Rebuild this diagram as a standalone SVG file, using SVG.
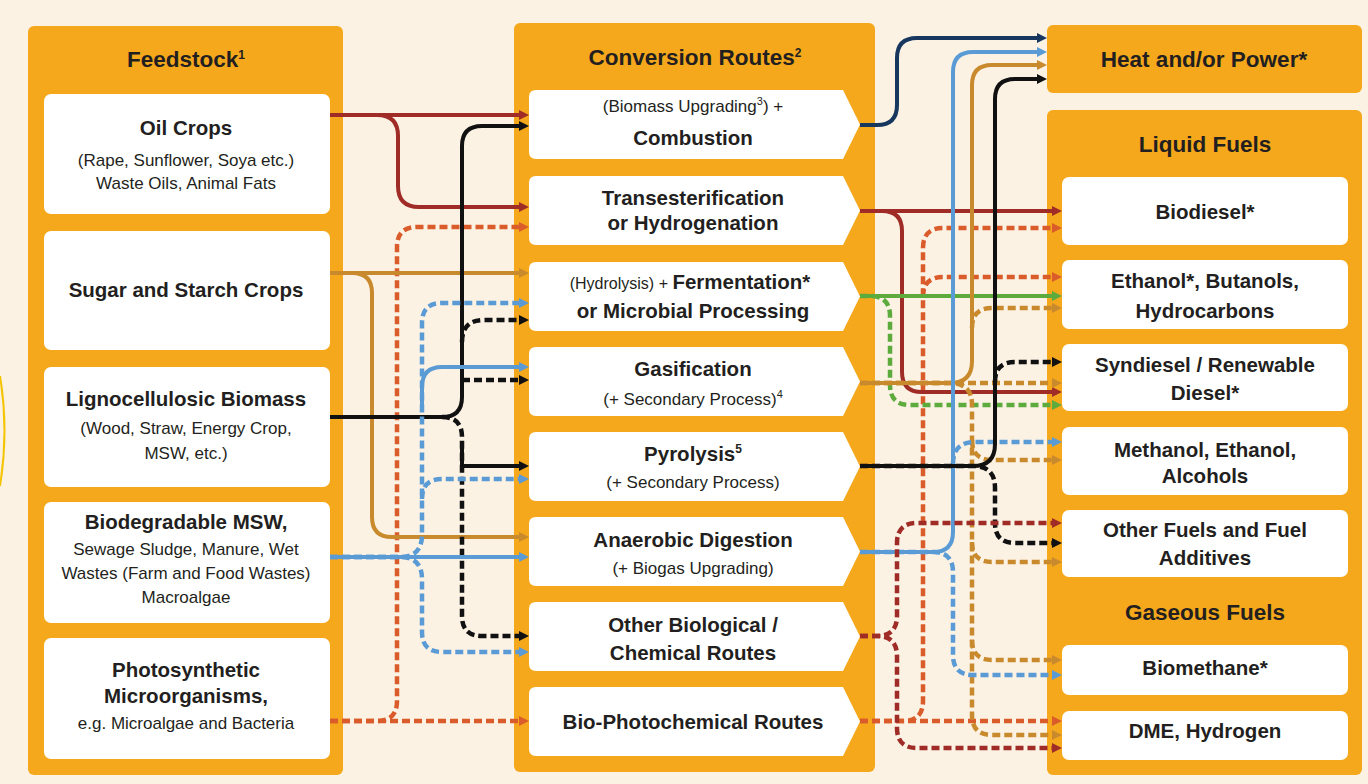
<svg xmlns="http://www.w3.org/2000/svg" width="1368" height="784" viewBox="0 0 1368 784">
<defs>
<style>
.panel{fill:#F5A81C}
.box{fill:#FFFFFF}
text{font-family:"Liberation Sans",Arial,sans-serif;fill:#231F20;text-anchor:middle}
.h{font-weight:bold;font-size:22.5px}
.t{font-weight:bold;font-size:20.5px}
.s{font-size:17px}
.c{fill:none;stroke-width:4}
.d{stroke-dasharray:8 4;stroke-width:4.5}
.red{stroke:#A02C27}
.org{stroke:#DA5C2B}
.tan{stroke:#C98A2E}
.blk{stroke:#111111}
.blu{stroke:#5B9BD5}
.nav{stroke:#17375E}
.grn{stroke:#5CAB3C}
</style>
<marker id="aRed" markerUnits="userSpaceOnUse" markerWidth="10" markerHeight="10" refX="4" refY="5" orient="auto"><path d="M0,0 L10,5 L0,10 z" fill="#A02C27"/></marker>
<marker id="aOrg" markerUnits="userSpaceOnUse" markerWidth="10" markerHeight="10" refX="4" refY="5" orient="auto"><path d="M0,0 L10,5 L0,10 z" fill="#DA5C2B"/></marker>
<marker id="aTan" markerUnits="userSpaceOnUse" markerWidth="10" markerHeight="10" refX="4" refY="5" orient="auto"><path d="M0,0 L10,5 L0,10 z" fill="#C98A2E"/></marker>
<marker id="aBlk" markerUnits="userSpaceOnUse" markerWidth="10" markerHeight="10" refX="4" refY="5" orient="auto"><path d="M0,0 L10,5 L0,10 z" fill="#111111"/></marker>
<marker id="aBlu" markerUnits="userSpaceOnUse" markerWidth="10" markerHeight="10" refX="4" refY="5" orient="auto"><path d="M0,0 L10,5 L0,10 z" fill="#5B9BD5"/></marker>
<marker id="aNav" markerUnits="userSpaceOnUse" markerWidth="10" markerHeight="10" refX="4" refY="5" orient="auto"><path d="M0,0 L10,5 L0,10 z" fill="#17375E"/></marker>
<marker id="aGrn" markerUnits="userSpaceOnUse" markerWidth="10" markerHeight="10" refX="4" refY="5" orient="auto"><path d="M0,0 L10,5 L0,10 z" fill="#5CAB3C"/></marker>
</defs>

<rect x="0" y="0" width="1368" height="784" fill="#FBF2E4"/>
<path d="M0,376 Q9,430 0,486" fill="none" stroke="#F5C400" stroke-width="2"/>

<!-- Feedstock panel -->
<g id="feedstock">
<rect class="panel" x="28" y="26" width="315" height="749" rx="6"/>
<text class="h" x="186" y="67">Feedstock<tspan font-size="12" dy="-8">1</tspan></text>
</g>
<g id="oil-crops">
<rect class="box" x="44" y="94" width="286" height="120" rx="7"/>
<text class="t" x="186" y="135">Oil Crops</text>
<text class="s" x="186" y="166">(Rape, Sunflower, Soya etc.)</text>
<text class="s" x="186" y="189">Waste Oils, Animal Fats</text>
</g>
<g id="sugar-starch">
<rect class="box" x="44" y="231" width="286" height="119" rx="7"/>
<text class="t" x="186" y="297">Sugar and Starch Crops</text>
</g>
<g id="lignocellulosic">
<rect class="box" x="44" y="367" width="286" height="120" rx="7"/>
<text class="t" x="186" y="406">Lignocellulosic Biomass</text>
<text class="s" x="186" y="434">(Wood, Straw, Energy Crop,</text>
<text class="s" x="186" y="459">MSW, etc.)</text>
</g>
<g id="biodegradable-msw">
<rect class="box" x="44" y="502" width="286" height="121" rx="7"/>
<text class="t" x="186" y="529">Biodegradable MSW,</text>
<text class="s" x="186" y="555">Sewage Sludge, Manure, Wet</text>
<text class="s" x="186" y="579">Wastes (Farm and Food Wastes)</text>
<text class="s" x="186" y="603">Macroalgae</text>
</g>
<g id="photosynthetic">
<rect class="box" x="44" y="638" width="286" height="121" rx="7"/>
<text class="t" x="186" y="677">Photosynthetic</text>
<text class="t" x="186" y="703">Microorganisms,</text>
<text class="s" x="186" y="729">e.g. Microalgae and Bacteria</text>
</g>

<!-- Conversion panel -->
<g id="conversion">
<rect class="panel" x="514" y="23" width="361" height="749" rx="6"/>
<text class="h" x="695" y="65">Conversion Routes<tspan font-size="12" dy="-8">2</tspan></text>
</g>
<g id="combustion">
<path class="box" d="M536,90 H843 L860,124.5 L843,159 H536 Q529,159 529,152 V97 Q529,90 536,90 Z"/>
<text class="s" x="693" y="112">(Biomass Upgrading<tspan font-size="11" dy="-7">3</tspan><tspan dy="7">) +</tspan></text>
<text class="t" x="693" y="145">Combustion</text>
</g>
<g id="transesterification">
<path class="box" d="M536,176 H843 L860,210.5 L843,245 H536 Q529,245 529,238 V183 Q529,176 536,176 Z"/>
<text class="t" x="693" y="205">Transesterification</text>
<text class="t" x="693" y="230">or Hydrogenation</text>
</g>
<g id="fermentation">
<path class="box" d="M536,262 H843 L860,296.5 L843,331 H536 Q529,331 529,324 V269 Q529,262 536,262 Z"/>
<text x="690" y="289"><tspan font-size="16">(Hydrolysis) + </tspan><tspan font-size="20.5" font-weight="bold">Fermentation*</tspan></text>
<text class="t" x="693" y="318">or Microbial Processing</text>
</g>
<g id="gasification">
<path class="box" d="M536,347 H843 L860,381.5 L843,416 H536 Q529,416 529,409 V354 Q529,347 536,347 Z"/>
<text class="t" x="693" y="376">Gasification</text>
<text class="s" x="693" y="405">(+ Secondary Process)<tspan font-size="11" dy="-7">4</tspan></text>
</g>
<g id="pyrolysis">
<path class="box" d="M536,432 H843 L860,466.5 L843,501 H536 Q529,501 529,494 V439 Q529,432 536,432 Z"/>
<text class="t" x="693" y="461">Pyrolysis<tspan font-size="12" dy="-8">5</tspan></text>
<text class="s" x="693" y="488">(+ Secondary Process)</text>
</g>
<g id="anaerobic-digestion">
<path class="box" d="M536,517 H843 L860,551.5 L843,586 H536 Q529,586 529,579 V524 Q529,517 536,517 Z"/>
<text class="t" x="693" y="547">Anaerobic Digestion</text>
<text class="s" x="693" y="574">(+ Biogas Upgrading)</text>
</g>
<g id="other-biological">
<path class="box" d="M536,602 H843 L860,636.5 L843,671 H536 Q529,671 529,664 V609 Q529,602 536,602 Z"/>
<text class="t" x="693" y="632">Other Biological /</text>
<text class="t" x="693" y="660">Chemical Routes</text>
</g>
<g id="bio-photochemical">
<path class="box" d="M536,687 H843 L860,721.5 L843,756 H536 Q529,756 529,749 V694 Q529,687 536,687 Z"/>
<text class="t" x="693" y="729">Bio-Photochemical Routes</text>
</g>

<!-- Outputs -->
<g id="heat-power">
<rect class="panel" x="1047" y="25" width="315" height="68" rx="6"/>
<text class="h" x="1204" y="67">Heat and/or Power*</text>
</g>
<g id="liquid-fuels">
<rect class="panel" x="1047" y="110" width="315" height="665" rx="6"/>
<text class="h" x="1205" y="152">Liquid Fuels</text>
<text class="h" x="1205" y="620">Gaseous Fuels</text>
</g>
<g id="biodiesel">
<rect class="box" x="1062" y="177" width="286" height="68" rx="7"/>
<text class="t" x="1205" y="219">Biodiesel*</text>
</g>
<g id="ethanol">
<rect class="box" x="1062" y="260" width="286" height="69" rx="7"/>
<text class="t" x="1205" y="288">Ethanol*, Butanols,</text>
<text class="t" x="1205" y="318">Hydrocarbons</text>
</g>
<g id="syndiesel">
<rect class="box" x="1062" y="344" width="286" height="67" rx="7"/>
<text class="t" x="1205" y="372">Syndiesel / Renewable</text>
<text class="t" x="1205" y="400">Diesel*</text>
</g>
<g id="methanol">
<rect class="box" x="1062" y="427" width="286" height="68" rx="7"/>
<text class="t" x="1205" y="457">Methanol, Ethanol,</text>
<text class="t" x="1205" y="483">Alcohols</text>
</g>
<g id="other-fuels">
<rect class="box" x="1062" y="510" width="286" height="67" rx="7"/>
<text class="t" x="1205" y="537">Other Fuels and Fuel</text>
<text class="t" x="1205" y="565">Additives</text>
</g>
<g id="biomethane">
<rect class="box" x="1062" y="645" width="286" height="50" rx="7"/>
<text class="t" x="1205" y="675">Biomethane*</text>
</g>
<g id="dme-hydrogen">
<rect class="box" x="1062" y="711" width="286" height="49" rx="7"/>
<text class="t" x="1205" y="738">DME, Hydrogen</text>
</g>

<!-- Connectors -->
<g id="connectors">
<!-- left side -->
<path class="c red" d="M330,115 H523" marker-end="url(#aRed)"/>
<path class="c red" d="M330,115 H377 Q398,115 398,136 V186 Q398,207 419,207 H523" marker-end="url(#aRed)"/>
<path class="c org d" d="M330,721 H523" marker-end="url(#aOrg)"/>
<path class="c org d" d="M330,721 H377 Q397,721 397,701 V247 Q397,227 417,227 H523" marker-end="url(#aOrg)"/>
<path class="c tan" d="M330,273 H523" marker-end="url(#aTan)"/>
<path class="c tan" d="M330,273 H352 Q372,273 372,293 V517 Q372,537 392,537 H523" marker-end="url(#aTan)"/>
<path class="c blk" d="M330,417 H442 Q462,417 462,397 V146 Q462,126 482,126 H523" marker-end="url(#aBlk)"/>
<path class="c blk" d="M462,448 V466 H523" marker-end="url(#aBlk)"/>
<path class="c blk d" d="M442,417 Q462,417 462,437 V616 Q462,636 482,636 H523" marker-end="url(#aBlk)"/>
<path class="c blk d" d="M462,342 Q462,320 484,320 H523" marker-end="url(#aBlk)"/>
<path class="c blk d" d="M462,380 H523" marker-end="url(#aBlk)"/>
<path class="c blu d" d="M330,557 H400 Q422,557 422,535 V323 Q422,303 442,303 H523" marker-end="url(#aBlu)"/>
<path class="c blu d" d="M330,557 H400 Q422,557 422,579 V632 Q422,652 442,652 H523" marker-end="url(#aBlu)"/>
<path class="c blu d" d="M422,499 Q422,479 442,479 H523" marker-end="url(#aBlu)"/>
<path class="c blu" d="M422,412 V387 Q422,367 442,367 H523" marker-end="url(#aBlu)"/>
<path class="c blu" d="M330,557 H523" marker-end="url(#aBlu)"/>
<!-- right side -->
<path class="c nav" d="M860,125 H877 Q897,125 897,105 V58 Q897,38 917,38 H1041" marker-end="url(#aNav)"/>
<path class="c org d" d="M860,721 H903 Q923,721 923,701 V248 Q923,228 943,228 H1056" marker-end="url(#aOrg)"/>
<path class="c org d" d="M923,297 Q923,277 943,277 H1056" marker-end="url(#aOrg)"/>
<path class="c org d" d="M860,721 H1056" marker-end="url(#aOrg)"/>
<path class="c red" d="M860,211 H1056" marker-end="url(#aRed)"/>
<path class="c red" d="M860,211 H882 Q902,211 902,231 V372 Q902,392 922,392 H1056" marker-end="url(#aRed)"/>
<path class="c grn d" d="M860,296 H870 Q890,296 890,316 V385 Q890,405 910,405 H1056" marker-end="url(#aGrn)"/>
<path class="c grn" d="M860,296 H1056" marker-end="url(#aGrn)"/>
<path class="c tan d" d="M860,383 H1056" marker-end="url(#aTan)"/>
<path class="c tan d" d="M860,383 H950 Q972,383 972,405 V715 Q972,735 992,735 H1056" marker-end="url(#aTan)"/>
<path class="c tan d" d="M972,328 Q972,308 992,308 H1056" marker-end="url(#aTan)"/>
<path class="c tan d" d="M972,440 Q972,460 992,460 H1056" marker-end="url(#aTan)"/>
<path class="c tan d" d="M972,542 Q972,562 992,562 H1056" marker-end="url(#aTan)"/>
<path class="c tan d" d="M972,640 Q972,660 992,660 H1056" marker-end="url(#aTan)"/>
<path class="c tan" d="M860,383 H950 Q972,383 972,361 V85 Q972,65 992,65 H1041" marker-end="url(#aTan)"/>
<path class="c blu" d="M860,552 H933 Q953,552 953,532 V72 Q953,52 973,52 H1041" marker-end="url(#aBlu)"/>
<path class="c blu d" d="M860,552 H933 Q953,552 953,572 V655 Q953,675 973,675 H1056" marker-end="url(#aBlu)"/>
<path class="c blu d" d="M953,464 Q953,442 975,442 H1056" marker-end="url(#aBlu)"/>
<path class="c blk" d="M860,466 H973 Q995,466 995,444 V99 Q995,79 1015,79 H1041" marker-end="url(#aBlk)"/>
<path class="c blk d" d="M860,466 H973 Q995,466 995,488 V523 Q995,543 1015,543 H1056" marker-end="url(#aBlk)"/>
<path class="c blk d" d="M995,382 Q995,362 1015,362 H1056" marker-end="url(#aBlk)"/>
<path class="c red d" d="M860,636 H877 Q897,636 897,616 V543 Q897,523 917,523 H1056" marker-end="url(#aRed)"/>
<path class="c red d" d="M860,636 H877 Q897,636 897,656 V728 Q897,748 917,748 H1056" marker-end="url(#aRed)"/>
</g>
</svg>
